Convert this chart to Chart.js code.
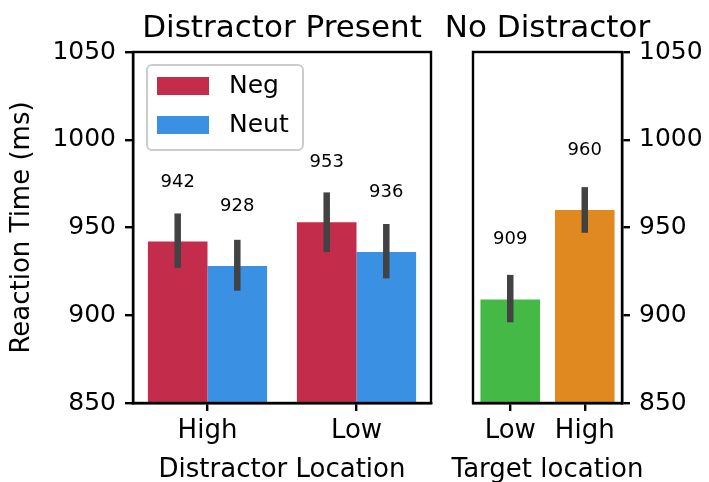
<!DOCTYPE html>
<html>
<head>
<meta charset="utf-8">
<script src="https://cdn.jsdelivr.net/npm/chart.js@4"></script>
<style>
  html, body { margin: 0; padding: 0; background: #fff; }
  #wrap { position: relative; width: 709px; height: 482px; }
  canvas { position: absolute; top: 0; }
</style>
</head>
<body>
<div id="wrap">
  <canvas id="leftChart" width="452" height="482" style="left:0"></canvas>
  <canvas id="rightChart" width="299" height="482" style="left:410px"></canvas>
</div>
<script>
// left panel: distractor present
const locations = ['High', 'Low'];
const negRT = [942, 953];
const neutRT = [928, 936];
const negCI = [[927, 958], [936, 970]];
const neutCI = [[914, 943], [921, 952]];

// right panel: no distractor
const targetLocations = ['Low', 'High'];
const targetRT = [909, 960];
const targetCI = [[896, 923], [947, 973]];

const yTicks = [850, 900, 950, 1000, 1050];

Chart.defaults.font.family = "'DejaVu Sans', sans-serif";
Chart.defaults.color = '#000';

const lw = 2.4;

// error bars, value labels, frame, titles and legend
const panelPlugin = {
    id: 'panel',
    afterDatasetsDraw(chart) {
        const ctx = chart.ctx;
        const y = chart.scales.y;
        ctx.save();
        chart.data.datasets.forEach((ds, i) => {
            const meta = chart.getDatasetMeta(i);
            meta.data.forEach((bar, j) => {
                const ci = ds.ci[j];
                ctx.strokeStyle = '#424242';
                ctx.lineWidth = 6.5;
                ctx.beginPath();
                ctx.moveTo(bar.x, y.getPixelForValue(ci[0]));
                ctx.lineTo(bar.x, y.getPixelForValue(ci[1]));
                ctx.stroke();
                ctx.fillStyle = '#000';
                ctx.font = "18px 'DejaVu Sans'";
                ctx.textAlign = 'center';
                ctx.textBaseline = 'middle';
                ctx.fillText(String(ds.data[j]), bar.x, y.getPixelForValue(ds.data[j] + 34));
            });
        });
        ctx.restore();
    },
    afterDraw(chart, args, opts) {
        const ctx = chart.ctx;
        const a = chart.chartArea;
        const cx = (a.left + a.right) / 2;
        ctx.save();
        ctx.strokeStyle = '#000';
        ctx.lineWidth = lw;
        ctx.strokeRect(a.left, a.top, a.right - a.left, a.bottom - a.top);

        ctx.fillStyle = '#000';
        ctx.textAlign = 'center';
        ctx.textBaseline = 'alphabetic';
        ctx.font = "31px 'DejaVu Sans'";
        ctx.fillText(opts.title, cx, a.top - 15);
        ctx.font = "26px 'DejaVu Sans'";
        ctx.fillText(opts.xTitle, cx, 477);

        if (opts.legend) {
            const bx = a.left + 14, by = a.top + 13, bw = 156, bh = 85;
            ctx.fillStyle = 'rgba(255,255,255,0.8)';
            ctx.strokeStyle = '#cccccc';
            ctx.lineWidth = 2;
            ctx.beginPath();
            ctx.roundRect(bx, by, bw, bh, 5);
            ctx.fill();
            ctx.stroke();
            chart.data.datasets.forEach((ds, i) => {
                const py = by + 12 + i * 39;
                ctx.fillStyle = ds.backgroundColor;
                ctx.fillRect(bx + 10, py, 52, 18);
                ctx.fillStyle = '#000';
                ctx.font = "25px 'DejaVu Sans'";
                ctx.textAlign = 'left';
                ctx.textBaseline = 'middle';
                ctx.fillText(ds.label, bx + 82, py + 9);
            });
        }
        ctx.restore();
    }
};

function axisY(position, width, withTitle) {
    return {
        position: position,
        min: 850,
        max: 1050,
        afterBuildTicks(s) { s.ticks = yTicks.map(v => ({ value: v })); },
        ticks: { font: { size: 25 }, padding: 9, callback: v => String(v) },
        grid: { drawOnChartArea: false, tickLength: 8, color: '#000', lineWidth: lw },
        border: { color: '#000', width: lw },
        title: {
            display: withTitle,
            text: 'Reaction Time (ms)',
            font: { size: 26 },
            padding: { top: 7, bottom: 0 }
        },
        afterFit(s) { s.width = width; }
    };
}

function axisX() {
    return {
        type: 'category',
        offset: true,
        ticks: { font: { size: 26 }, padding: 5 },
        grid: { offset: false, drawOnChartArea: false, tickLength: 8, color: '#000', lineWidth: lw },
        border: { color: '#000', width: lw },
        afterFit(s) { s.height = 79; }
    };
}

new Chart(document.getElementById('leftChart'), {
    type: 'bar',
    data: {
        labels: locations,
        datasets: [
            { label: 'Neg', data: negRT, ci: negCI, backgroundColor: '#c32d4b' },
            { label: 'Neut', data: neutRT, ci: neutCI, backgroundColor: '#3a90e3' }
        ]
    },
    options: {
        responsive: false,
        animation: false,
        categoryPercentage: 0.8,
        barPercentage: 1.0,
        layout: { padding: { top: 52, left: 0, right: 21, bottom: 0 } },
        scales: { x: axisX(), y: axisY('left', 133, true) },
        plugins: {
            legend: { display: false },
            tooltip: { enabled: false },
            panel: { title: 'Distractor Present', xTitle: 'Distractor Location', legend: true }
        }
    },
    plugins: [panelPlugin]
});

new Chart(document.getElementById('rightChart'), {
    type: 'bar',
    data: {
        labels: targetLocations,
        datasets: [
            { label: 'RT', data: targetRT, ci: targetCI, backgroundColor: ['#45b945', '#df8920'] }
        ]
    },
    options: {
        responsive: false,
        animation: false,
        categoryPercentage: 0.8,
        barPercentage: 1.0,
        layout: { padding: { top: 52, left: 63, right: 0, bottom: 0 } },
        scales: { x: axisX(), y: axisY('right', 87, false) },
        plugins: {
            legend: { display: false },
            tooltip: { enabled: false },
            panel: { title: 'No Distractor', xTitle: 'Target location', legend: false }
        }
    },
    plugins: [panelPlugin]
});
</script>
</body>
</html>
